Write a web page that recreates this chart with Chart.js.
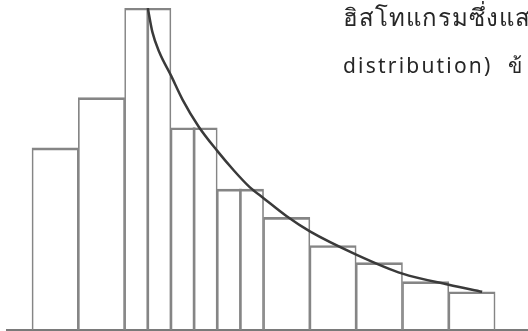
<!DOCTYPE html>
<html>
<head>
<meta charset="utf-8">
<script src="https://cdn.jsdelivr.net/npm/chart.js@4/dist/chart.umd.min.js"></script>
<style>
  html, body { margin: 0; padding: 0; background: #fff; }
  #wrap { position: relative; width: 528px; height: 331px; overflow: hidden; }
  canvas { position: absolute; left: 0; top: 0; }
  .txt { position: absolute; left: 343px; color: #262626; font-family: "Noto Sans", "DejaVu Sans", sans-serif; white-space: nowrap; line-height: 1; }
</style>
</head>
<body>
<div id="wrap">
  <canvas id="c" width="528" height="331"></canvas>
  <div class="txt" id="t1" style="top:5px; font-size:24px; letter-spacing:1px">ฮิสโทแกรมซึ่งแส</div>
  <div class="txt" id="t2" style="top:55px; font-size:21px; letter-spacing:2.2px">distribution)&nbsp;&nbsp;ข้</div>
</div>
<script>
// Histogram bin centres (in bin units) and bar heights
const binCenters = [0.5, 1.5, 2.5, 3.5, 4.5, 5.5, 6.5, 7.5, 8.5, 9.5];
const binHeights = [181, 231, 320, 201, 140, 112, 84, 67, 48, 38];
// Inner dividing lines inside some bars
const dividerX = [2.5, 3.5, 4.5];
const dividerHeights = [320, 201, 140];
// Fitted decay curve
const curveX = [2.5, 2.6, 2.75, 3, 3.25, 3.6, 4, 4.35, 4.7, 5, 5.5, 6, 7, 8, 9, 9.72];
const curveY = [320, 296, 276, 253, 229, 202, 178, 159, 142, 131, 113, 98, 75, 56, 45, 38];

const barData = binCenters.map((x, i) => ({ x, y: binHeights[i] }));
const divData = dividerX.map((x, i) => ({ x, y: dividerHeights[i] }));
const curveData = curveX.map((x, i) => ({ x, y: curveY[i] }));

new Chart(document.getElementById('c'), {
  type: 'bar',
  data: {
    datasets: [
      {
        type: 'line',
        data: curveData,
        borderColor: '#3a3a3a',
        borderWidth: 2.5,
        pointRadius: 0,
        fill: false,
        cubicInterpolationMode: 'monotone',
        order: 0
      },
      {
        data: barData,
        backgroundColor: 'rgba(255,255,255,0)',
        borderColor: '#858585',
        borderWidth: { top: 2, left: 1, right: 1, bottom: 0 },
        borderSkipped: false,
        barPercentage: 1,
        categoryPercentage: 1,
        grouped: false,
        order: 2
      },
      {
        data: divData,
        backgroundColor: '#858585',
        borderWidth: 0,
        barThickness: 2,
        grouped: false,
        order: 1
      }
    ]
  },
  options: {
    responsive: false,
    animation: false,
    layout: { padding: { top: 8, bottom: 1, left: 7, right: 0 } },
    plugins: { legend: { display: false }, tooltip: { enabled: false } },
    scales: {
      x: {
        type: 'linear',
        offset: false,
        min: -0.54,
        max: 10.71,
        ticks: { display: false, padding: 0 },
        grid: { display: false, drawTicks: false, tickLength: 0 },
        border: { display: true, color: '#7a7a7a', width: 2 }
      },
      y: {
        display: false,
        min: 0,
        max: 320
      }
    }
  }
});
</script>
</body>
</html>
